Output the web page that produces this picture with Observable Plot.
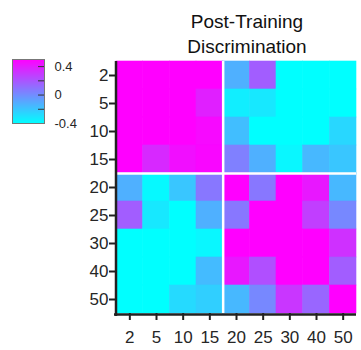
<!DOCTYPE html>
<html><head><meta charset="utf-8">
<script src="https://cdn.jsdelivr.net/npm/d3@7"></script>
<script src="https://cdn.jsdelivr.net/npm/@observablehq/plot@0.6"></script>
<style>
html,body{margin:0;padding:0;background:#fff;}
#wrap{position:relative;width:361px;height:350px;font-family:"Liberation Sans",Arial,sans-serif;overflow:hidden;}
#chart,#legend{position:absolute;left:0;top:0;}
#title{position:absolute;left:147px;width:200px;top:9px;text-align:center;font-size:19px;line-height:25px;color:#111;}
</style></head><body>
<div id="wrap"><div id="chart"></div><div id="legend"></div><div id="title">Post-Training<br>Discrimination</div></div>
<script>
const sizes = ["2","5","10","15","20","25","30","40","50"];
const row2  = [0.5, 0.5, 0.5, 0.5, -0.12, 0.17, -0.4, -0.4, -0.4];
const row5  = [0.5, 0.5, 0.5, 0.39, -0.34, -0.32, -0.4, -0.4, -0.4];
const row10 = [0.5, 0.5, 0.5, 0.47, -0.17, -0.4, -0.4, -0.4, -0.26];
const row15 = [0.5, 0.36, 0.45, 0.48, 0.05, -0.12, -0.37, -0.15, -0.2];
const row20 = [-0.12, -0.38, -0.2, 0.08, 0.5, 0.08, 0.5, 0.42, -0.15];
const row25 = [0.17, -0.32, -0.4, -0.12, 0.08, 0.5, 0.5, 0.28, 0.02];
const row30 = [-0.4, -0.4, -0.4, -0.37, 0.5, 0.5, 0.5, 0.5, 0.33];
const row40 = [-0.4, -0.4, -0.4, -0.16, 0.42, 0.22, 0.5, 0.5, 0.17];
const row50 = [-0.4, -0.4, -0.27, -0.23, -0.15, 0.02, 0.31, 0.14, 0.5];
const legendTicks = [-0.2, 0, 0.2, 0.4];
const legendLabels = [0.4, 0, -0.4];

const rows = [row2,row5,row10,row15,row20,row25,row30,row40,row50];
const cells = rows.flatMap((r,i)=>r.map((v,j)=>({xi:j, yi:i, value:v})));
const tickPos = sizes.map((s,i)=>i+0.5);
const colorOpts = {type:"linear", domain:[-0.4,0.5], range:["#00ffff","#ff00ff"], interpolate:"rgb", clamp:true};
const font = '"Liberation Sans",Arial,sans-serif';

const chart = Plot.plot({
  width:361, height:350, marginLeft:116, marginRight:5, marginTop:61, marginBottom:37,
  x:{domain:[0,9], axis:null, label:null},
  y:{domain:[0,9], reverse:true, axis:null, label:null},
  color:colorOpts,
  style:{fontFamily:font, background:"transparent", color:"#262626"},
  marks:[
    Plot.rect(cells,{x1:"xi", x2:d=>d.xi+1, y1:"yi", y2:d=>d.yi+1, fill:"value", stroke:"value", strokeWidth:0.6}),
    Plot.ruleX([4],{stroke:"white", strokeWidth:2.5}),
    Plot.ruleY([4],{stroke:"white", strokeWidth:2.5}),
    Plot.axisX({ticks:tickPos, tickFormat:d=>sizes[Math.floor(d)], label:null, tickSize:7, tickPadding:10, fontSize:17, strokeWidth:2, stroke:"#222", fill:"#262626"}),
    Plot.axisY({ticks:tickPos, tickFormat:d=>sizes[Math.floor(d)], label:null, tickSize:7, tickPadding:1, fontSize:17, strokeWidth:2, stroke:"#222", fill:"#262626"}),
    Plot.ruleX([0],{stroke:"#222", strokeWidth:2.5, dx:-0.5, insetBottom:-3}),
    Plot.ruleY([9],{stroke:"#222", strokeWidth:2.5, dy:1, insetLeft:-2})
  ]
});
document.getElementById("chart").append(chart);

const legend = Plot.plot({
  width:80, height:140, marginLeft:12, marginRight:36, marginTop:59, marginBottom:17,
  x:{domain:[0,1], axis:null},
  y:{domain:[-0.4,0.5], axis:null},
  color:colorOpts,
  style:{fontFamily:font, background:"transparent", color:"#262626", overflow:"visible"},
  marks:[
    Plot.raster({x1:0, x2:1, y1:-0.4, y2:0.5, fill:(x,y)=>y, pixelSize:1}),
    Plot.tickY(legendTicks,{y:d=>d, stroke:"#333", strokeWidth:1, insetLeft:26}),
    Plot.frame({stroke:"#777", strokeWidth:1}),
    Plot.text(legendLabels,{y:d=>d, frameAnchor:"right", dx:10, textAnchor:"start", text:d=>d===0?"0":d.toFixed(1), fontSize:13, fill:"#262626"})
  ]
});
document.getElementById("legend").append(legend);
</script>
</body></html>
